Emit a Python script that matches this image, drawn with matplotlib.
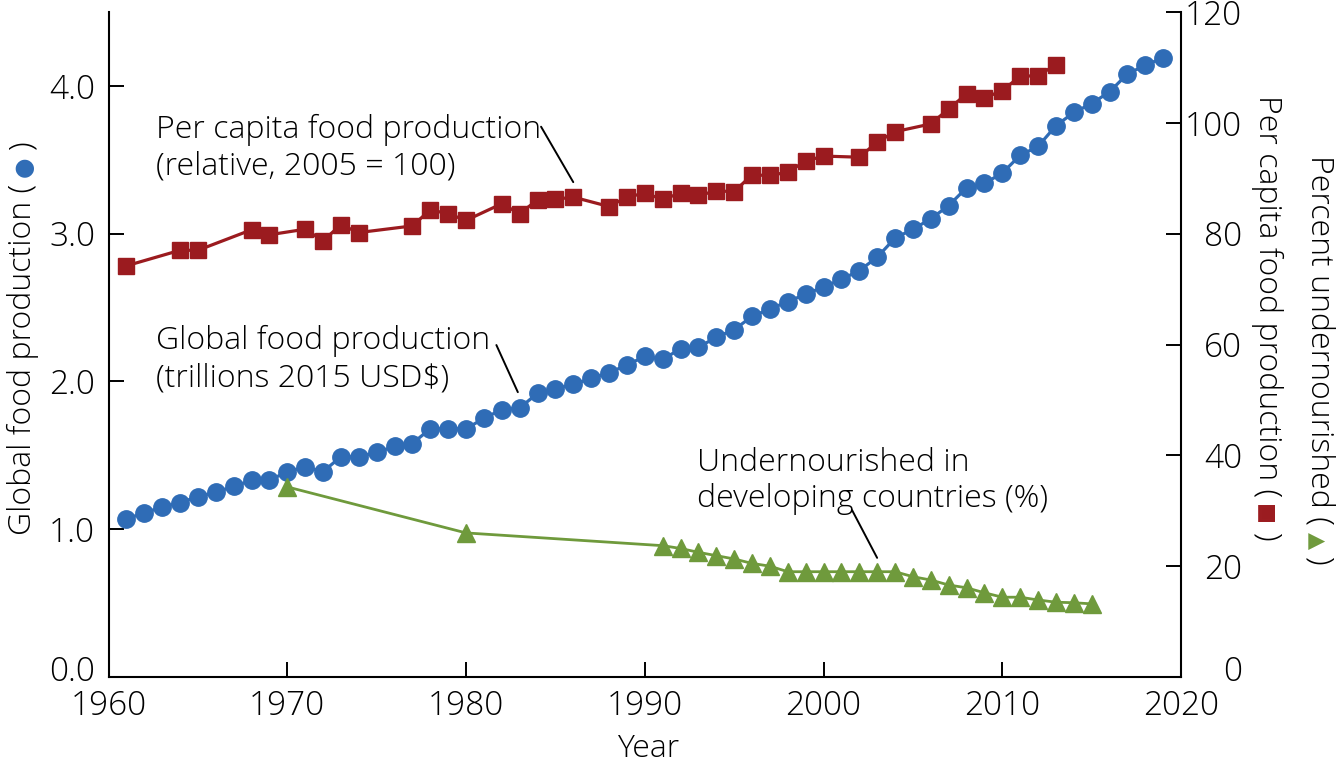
import matplotlib
matplotlib.use("Agg")
import matplotlib.pyplot as plt
from matplotlib.transforms import ScaledTranslation

W, H, DPI = 1337, 766, 100

# ---------------- data ----------------
global_years = list(range(1961, 2020))
global_prod = [1.07, 1.11, 1.15, 1.18, 1.22, 1.25, 1.29, 1.33, 1.33, 1.39,
               1.42, 1.39, 1.49, 1.49, 1.52, 1.56, 1.58, 1.68, 1.68, 1.68,
               1.75, 1.81, 1.82, 1.92, 1.95, 1.98, 2.02, 2.06, 2.11, 2.17,
               2.15, 2.22, 2.23, 2.30, 2.35, 2.44, 2.49, 2.54, 2.59, 2.64,
               2.69, 2.75, 2.84, 2.97, 3.03, 3.10, 3.19, 3.31, 3.34, 3.41,
               3.53, 3.59, 3.73, 3.82, 3.88, 3.96, 4.08, 4.14, 4.19]

percap_years = [1961, 1964, 1965, 1968, 1969, 1971, 1972, 1973, 1974, 1977,
                1978, 1979, 1980, 1982, 1983, 1984, 1985, 1986, 1988, 1989,
                1990, 1991, 1992, 1993, 1994, 1995, 1996, 1997, 1998, 1999,
                2000, 2002, 2003, 2004, 2006, 2007, 2008, 2009, 2010, 2011,
                2012, 2013]
percap = [74.2, 77.0, 77.0, 80.7, 79.8, 80.8, 78.7, 81.6, 80.2, 81.4,
          84.3, 83.6, 82.4, 85.4, 83.6, 86.1, 86.2, 86.6, 84.9, 86.6,
          87.3, 86.2, 87.3, 86.9, 87.7, 87.6, 90.6, 90.5, 91.1, 93.1,
          94.0, 93.8, 96.5, 98.4, 99.8, 102.5, 105.2, 104.5, 105.8, 108.4,
          108.5, 110.5]

under_years = [1970, 1980, 1991, 1992, 1993, 1994, 1995, 1996, 1997, 1998,
               1999, 2000, 2001, 2002, 2003, 2004, 2005, 2006, 2007, 2008,
               2009, 2010, 2011, 2012, 2013, 2014, 2015]
under = [34.3, 26.0, 23.7, 23.2, 22.5, 21.9, 21.3, 20.5, 20.0, 19.0,
         19.0, 19.0, 19.0, 19.0, 19.0, 19.0, 18.1, 17.5, 16.6, 16.1,
         15.2, 14.4, 14.4, 13.9, 13.5, 13.4, 13.2]

x_ticks = [1960, 1970, 1980, 1990, 2000, 2010, 2020]
left_ticks = [0, 1, 2, 3, 4]
right_ticks = [0, 20, 40, 60, 80, 100, 120]

BLUE = "#2f6cb6"
RED = "#9b1b1f"
GREEN = "#6f9a3c"

# ---------------- fonts ----------------
FAM = ["Open Sans", "DejaVu Sans"]
plt.rcParams["font.family"] = FAM
plt.rcParams["font.weight"] = "light"
plt.rcParams["text.color"] = "black"

TICK_FS = 24
TXT_FS = 23

fig = plt.figure(figsize=(W / DPI, H / DPI), dpi=DPI)
L, R, T, B = 108.5, 1181, 12, 677
ax = fig.add_axes([L / W, 1 - B / H, (R - L) / W, (B - T) / H])
ax2 = ax.twinx()

# blue: global production (left axis)
ax.plot(global_years, global_prod, color=BLUE, lw=2.3, marker="o",
        ms=12.5, mec=BLUE, mfc=BLUE, zorder=3, clip_on=False)
# red: per capita (right axis)
ax2.plot(percap_years, percap, color=RED, lw=2.3, marker="s",
         ms=11, mec=RED, mfc=RED, zorder=3, clip_on=False)
# green: undernourished (right axis)
ax2.plot(under_years, under, color=GREEN, lw=2.0, marker="^",
         ms=12.5, mec=GREEN, mfc=GREEN, zorder=4, clip_on=False)

ax.set_xlim(1960, 2020)
ax.set_ylim(0, 4.5)
ax2.set_ylim(0, 120)

ax.set_xticks(x_ticks)
ax.set_xticklabels([str(v) for v in x_ticks])
ax.set_yticks(left_ticks)
ax.set_yticklabels([f"{v:.1f}" for v in left_ticks])
ax2.set_yticks(right_ticks)
ax2.set_yticklabels([str(v) for v in right_ticks])

for a in (ax, ax2):
    a.spines["top"].set_visible(False)
    for s in a.spines.values():
        s.set_linewidth(1.5)
        s.set_color("black")
ax.spines["right"].set_visible(False)
ax2.spines["left"].set_visible(False)
ax2.spines["bottom"].set_visible(False)

ax.tick_params(axis="x", direction="in", length=10.8, width=1.4, pad=9,
               labelsize=TICK_FS, top=False, labelcolor="black")
ax.tick_params(axis="y", direction="in", length=10.8, width=1.4, pad=9.7,
               labelsize=TICK_FS, right=False, labelcolor="black")
ax2.tick_params(axis="y", direction="in", length=10.8, width=1.4, pad=44,
                labelsize=TICK_FS, left=False, labelcolor="black")
for lbl in ax2.get_yticklabels():
    lbl.set_horizontalalignment("right")

# bottom-most y labels sit a little higher in the reference
up = ScaledTranslation(0, 6 / 72, fig.dpi_scale_trans)
for tk in (ax.yaxis.get_major_ticks()[0], ax2.yaxis.get_major_ticks()[0]):
    for lab in (tk.label1, tk.label2):
        lab.set_transform(lab.get_transform() + up)


def fx(x):
    return x / W


def fy(y):
    return 1 - y / H


# annotation texts
for txt, x, y in [("Per capita food production", 156, 138),
                  ("(relative, 2005 = 100)", 156, 174),
                  ("Global food production", 156, 349),
                  ("(trillions 2015 USD$)", 156, 386),
                  ("Undernourished in", 697, 471),
                  ("developing countries (%)", 697, 507)]:
    fig.text(fx(x), fy(y), txt, fontsize=TXT_FS, ha="left", va="baseline")

fig.text(fx(648), fy(757), "Year", fontsize=TXT_FS, ha="center",
         va="baseline")

# leader lines (in data coordinates of right axis)
for (x0, y0), (x1, y1) in [((1984.2, 99.3), (1986.0, 89.3)),
                           ((1981.7, 59.9), (1982.9, 51.4)),
                           ((2001.6, 30.1), (2003.0, 21.5))]:
    ax2.annotate("", xy=(x1, y1), xytext=(x0, y0),
                 arrowprops=dict(arrowstyle="-", color="black", lw=1.4,
                                 shrinkA=0, shrinkB=0))


def seq_text(x, y_start, y_end, pieces, rot):
    """Lay rotated text pieces one after another, then centre them
    between y_start and y_end (pixels from the top)."""
    fig.canvas.draw()
    r = fig.canvas.get_renderer()
    cur = H - y_start
    made = []
    for s, c, gap, fs, sym in pieces:
        cur = cur + gap if rot == 90 else cur - gap
        kw = {}
        if sym:
            kw = dict(family="DejaVu Sans", weight="normal")
        t = fig.text(fx(x), cur / H, s, color=c, rotation=rot,
                     rotation_mode="anchor", ha="left", va="baseline",
                     fontsize=fs, **kw)
        made.append((t, cur))
        bb = t.get_window_extent(renderer=r)
        cur = bb.y1 if rot == 90 else bb.y0
    span = abs(cur - (H - y_start))
    want = abs(y_end - y_start)
    shift = (want - span) / 2.0
    for t, c0 in made:
        c1 = c0 - shift if rot == 90 else c0 + shift
        t.set_position((fx(x), c1 / H))


seq_text(31, 535, 140,
         [("Global food production (", "black", 0, TXT_FS, False),
          ("\u25CF", BLUE, 7, 17, True),
          (")", "black", 7, TXT_FS, False)], 90)
seq_text(1259, 100, 555,
         [("Per capita food production (", "black", 0, TXT_FS, False),
          ("\u25A0", RED, 7, 16, True),
          (")", "black", 7, TXT_FS, False)], 270)
seq_text(1311, 152, 555,
         [("Percent undernourished (", "black", 0, TXT_FS, False),
          ("\u25B2", GREEN, 7, 16, True),
          (")", "black", 7, TXT_FS, False)], 270)

fig.savefig("out.png", dpi=DPI)
